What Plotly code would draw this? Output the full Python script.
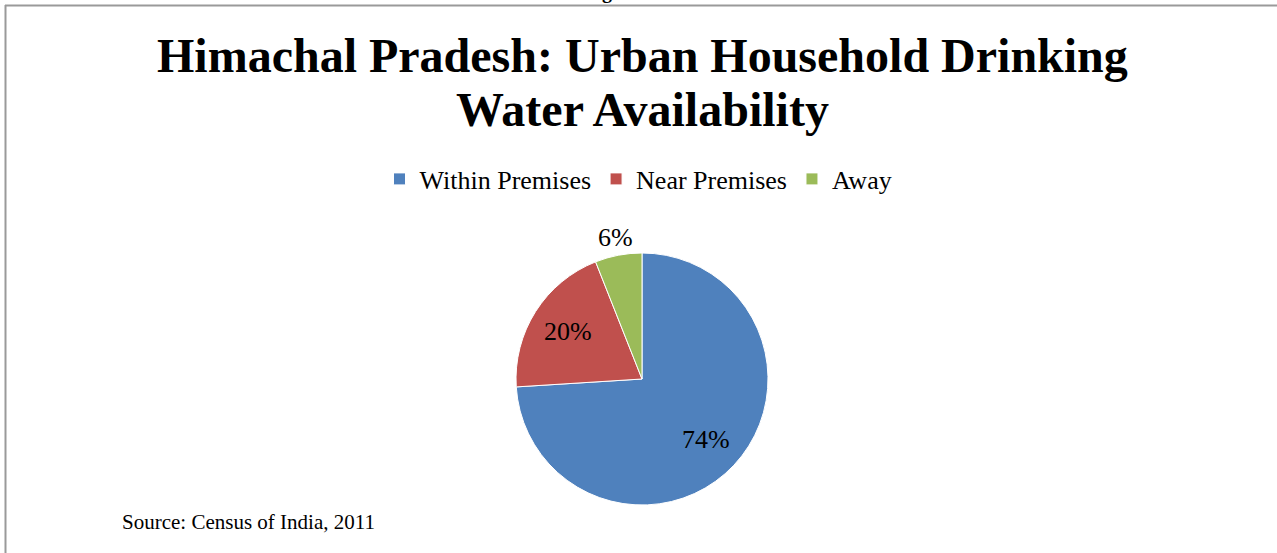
import math
import plotly.graph_objects as go

# Urban household drinking water availability, Himachal Pradesh (Census 2011)
categories = ["Within Premises", "Near Premises", "Away"]
shares = [74, 20, 6]
colors = ["#4F81BD", "#C0504D", "#9BBB59"]

W, H = 1277, 553
SERIF = "Liberation Serif, Times New Roman, serif"

# pie box in pixels (left, top, right, bottom)
px0, py0, px1, py1 = 516, 253, 768, 505
cx, cy, R = (px0 + px1) / 2, (py0 + py1) / 2, (px1 - px0) / 2

fig = go.Figure(
    go.Pie(
        labels=categories,
        values=shares,
        marker=dict(colors=colors, line=dict(color="white", width=1)),
        sort=False,
        direction="clockwise",
        rotation=0,
        textinfo="none",
        hoverinfo="label+percent",
        domain=dict(x=[px0 / W, px1 / W], y=[1 - py1 / H, 1 - py0 / H]),
    )
)

annotations = [
    dict(text="<b>Himachal Pradesh: Urban Household Drinking</b>",
         x=642 / W, y=1 - 56 / H, xanchor="center", yanchor="middle",
         font=dict(family=SERIF, size=48, color="black")),
    dict(text="<b>Water Availability</b>",
         x=642 / W, y=1 - 109 / H, xanchor="center", yanchor="middle",
         font=dict(family=SERIF, size=48, color="black")),
    dict(text="Source: Census of India, 2011",
         x=120 / W, y=1 - 522 / H, xanchor="left", yanchor="middle",
         font=dict(family=SERIF, size=21, color="black")),
    dict(text="<b>g</b>",
         x=607 / W, y=1 + 8 / H, xanchor="center", yanchor="middle",
         font=dict(family=SERIF, size=20, color="black")),
]

# percentage labels placed along each slice's mid-angle
total = sum(shares)
start = 0.0
for v in shares:
    frac = v / total
    mid = (start + frac / 2) * 2 * math.pi
    start += frac
    rf = 0.70 if frac >= 0.1 else 1.14
    lx = cx + math.sin(mid) * R * rf
    ly = cy - math.cos(mid) * R * rf
    annotations.append(dict(
        text=f"{v}%", x=lx / W, y=1 - ly / H,
        xanchor="center", yanchor="middle",
        font=dict(family=SERIF, size=26, color="black"),
    ))

for a in annotations:
    a.update(xref="paper", yref="paper", showarrow=False)

# frame lines along the top and left edges
shapes = [
    dict(type="line", xref="paper", yref="paper",
         x0=5 / W, x1=1.0, y0=1 - 5.5 / H, y1=1 - 5.5 / H,
         line=dict(color="#9A9A9A", width=2)),
    dict(type="line", xref="paper", yref="paper",
         x0=5.5 / W, x1=5.5 / W, y0=0, y1=1 - 5 / H,
         line=dict(color="#9A9A9A", width=2)),
]

fig.update_layout(
    width=W, height=H,
    margin=dict(l=0, r=0, t=0, b=0),
    paper_bgcolor="white",
    plot_bgcolor="white",
    annotations=annotations,
    shapes=shapes,
    showlegend=True,
    legend=dict(
        orientation="h",
        x=0.5, xanchor="center",
        y=1 - 179 / H, yanchor="middle",
        font=dict(family=SERIF, size=26, color="black"),
        itemclick=False,
        itemwidth=30,
        tracegroupgap=0,
    ),
)

fig.write_html("out.html")
